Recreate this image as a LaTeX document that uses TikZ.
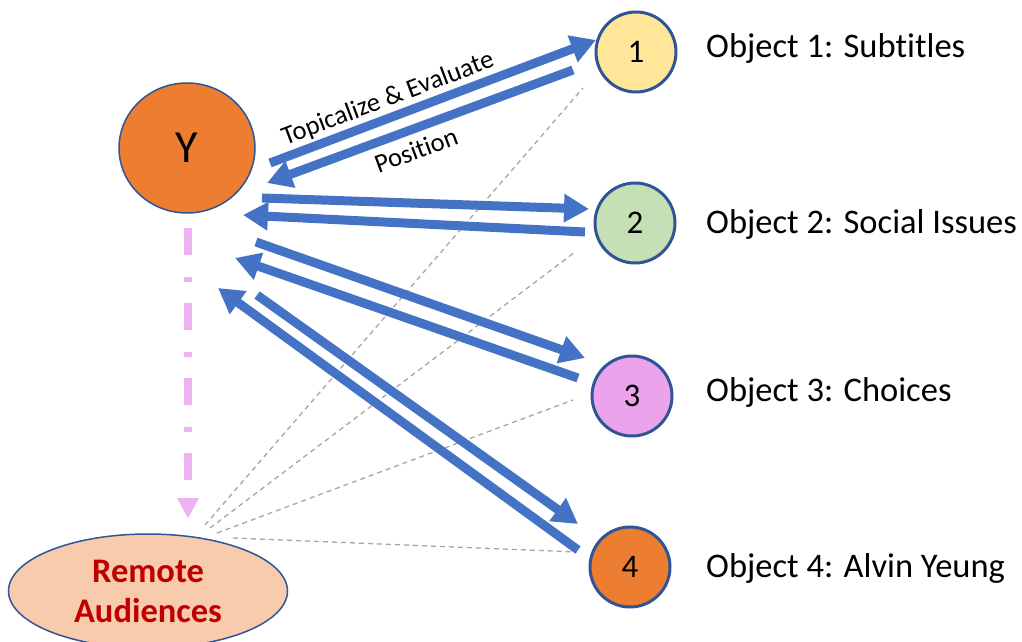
\documentclass[tikz,border=0pt]{standalone}
\usepackage{fontspec}
\setmainfont{Carlito}[Ligatures=NoCommon]
\usetikzlibrary{arrows.meta,shapes.geometric}
\definecolor{arrowblue}{HTML}{4472C4}
\definecolor{rimblue}{HTML}{2F5597}
\definecolor{yorange}{HTML}{ED7D31}
\definecolor{ylight}{HTML}{FFE699}
\definecolor{glight}{HTML}{C5E0B4}
\definecolor{plight}{HTML}{EBA3EC}
\definecolor{peach}{HTML}{F8CBAD}
\definecolor{darkred}{HTML}{C00000}
\definecolor{pinkline}{HTML}{EDB2F1}
\definecolor{dashgray}{HTML}{A6A6A6}
\tikzset{
  objcircle/.style={circle, draw=rimblue, line width=3pt, minimum size=80pt, inner sep=0pt,
    font=\fontsize{33}{36}\selectfont},
  objlabel/.style={anchor=base west, inner sep=0pt, font=\fontsize{34.5}{40}\selectfont},
  bluearrow/.style={draw=arrowblue, line width=9pt, -{Triangle[width=27pt,length=25pt]}},
  graydash/.style={draw=dashgray, line width=1.3pt, dash pattern=on 5pt off 4pt},
  pinkline/.style={draw=pinkline, line width=8pt, dash pattern=on 27pt off 22pt on 5pt off 21pt},
  pinkhead/.style={fill=pinkline, draw=none},
  arrowlabel/.style={inner sep=0pt, font=\fontsize{26.5}{30}\selectfont}
}
\begin{document}
\begin{tikzpicture}[x=1pt,y=-1pt]
\useasboundingbox (0,0) rectangle (1022,642);
\clip (0,0) rectangle (1022,642);

% main nodes
\node[ellipse, draw=rimblue, line width=1.5pt, fill=yorange, minimum width=136pt, minimum height=130pt,
      inner sep=0pt, font=\fontsize{46}{50}\selectfont] (Y) at (187,148) {Y};
\node[objcircle, fill=ylight] (n1) at (636,52) {1};
\node[objcircle, fill=glight] (n2) at (635,223) {2};
\node[objcircle, fill=plight] (n3) at (632,396) {3};
\node[objcircle, fill=yorange] (n4) at (630,567) {4};
\node[ellipse, draw=rimblue, line width=1.5pt, fill=peach, minimum width=279pt, minimum height=114pt,
      inner sep=0pt, align=center, text=darkred, font=\bfseries\fontsize{34.5}{40}\selectfont]
      (RA) at (148,591) {Remote\\Audiences};

% object labels
\node[objlabel] (t1) at (706,57) {Object 1: Subtitles};
\node[objlabel] (t2) at (706,233) {Object 2: Social Issues};
\node[objlabel] (t3) at (706,401) {Object 3: Choices};
\node[objlabel] (t4) at (706,577) {Object 4: Alvin Yeung};

% arrow end points
\coordinate (y1s) at (270,163); \coordinate (y1e) at (596,40);
\coordinate (o1s) at (573,70);  \coordinate (o1e) at (267,183);
\coordinate (y2s) at (262,198); \coordinate (y2e) at (589,209);
\coordinate (o2s) at (585,232); \coordinate (o2e) at (243,215);
\coordinate (y3s) at (256,242); \coordinate (y3e) at (585,358);
\coordinate (o3s) at (578,378); \coordinate (o3e) at (235,258);
\coordinate (y4s) at (257,295); \coordinate (y4e) at (578,524);
\coordinate (o4s) at (578,550); \coordinate (o4e) at (218,288);

% gray dashed lines
\coordinate (g1s) at (205,525); \coordinate (g1e) at (583,88);
\coordinate (g2s) at (210,528); \coordinate (g2e) at (575,252);
\coordinate (g3s) at (217,533); \coordinate (g3e) at (573,400);
\coordinate (g4s) at (233,538); \coordinate (g4e) at (577,552);
\draw[graydash] (g1s) -- (g1e);
\draw[graydash] (g2s) -- (g2e);
\draw[graydash] (g3s) -- (g3e);
\draw[graydash] (g4s) -- (g4e);

% pink dash-dot arrow
\coordinate (ps) at (188,228); \coordinate (pm) at (188,498); \coordinate (pe) at (188,518);
\draw[pinkline] (ps) -- (pm);
\fill[pinkhead] (pe) -- ([xshift=-11pt]pm) -- ([xshift=11pt]pm) -- cycle;

% blue arrows
\draw[bluearrow] (y1s) -- (y1e);
\draw[bluearrow] (o1s) -- (o1e);
\draw[bluearrow] (y2s) -- (y2e);
\draw[bluearrow] (o2s) -- (o2e);
\draw[bluearrow] (y3s) -- (y3e);
\draw[bluearrow] (o3s) -- (o3e);
\draw[bluearrow] (y4s) -- (y4e);
\draw[bluearrow] (o4s) -- (o4e);

% arrow labels
\node[arrowlabel, rotate=20.7] (lab1) at (388,99) {Topicalize \& Evaluate};
\node[arrowlabel, rotate=20.3] (lab2) at (416,150) {Position};
\end{tikzpicture}
\end{document}
